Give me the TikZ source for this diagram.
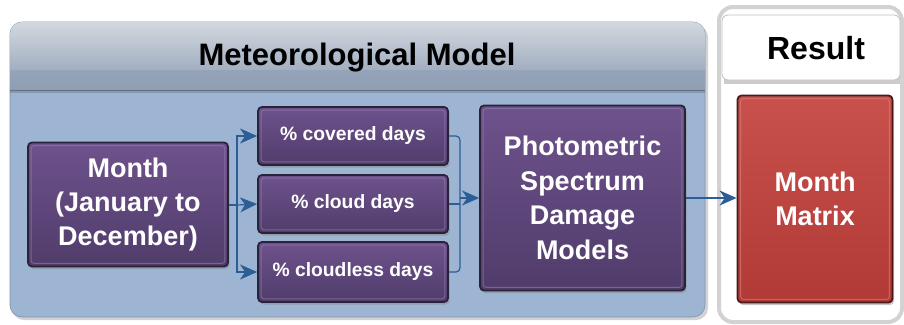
\documentclass[tikz,border=0pt]{standalone}
\usepackage{fontspec}
\setmainfont{Liberation Sans}
\usetikzlibrary{arrows.meta,shadows,calc}
\definecolor{panelblue}{HTML}{9DB5D3}
\definecolor{hdrtop}{HTML}{D2D8DF}
\definecolor{hdrbot}{HTML}{8E9EB4}
\definecolor{purtop}{HTML}{6E528C}
\definecolor{purbot}{HTML}{503C6B}
\definecolor{purline}{HTML}{2A2238}
\definecolor{redtop}{HTML}{C8514C}
\definecolor{redbot}{HTML}{B23A36}
\definecolor{redline}{HTML}{4A1A1A}
\definecolor{arrowblue}{HTML}{2D5D95}
\tikzset{
  purbox/.style={draw=purline, line width=1.8pt, rounded corners=4pt,
    top color=purtop, bottom color=purbot, text=white,
    align=center, inner sep=0pt,
    drop shadow={shadow xshift=1.5pt, shadow yshift=-2.5pt, opacity=0.45}},
  redbox/.style={draw=redline, line width=1.8pt, rounded corners=4pt,
    top color=redtop, bottom color=redbot, text=white,
    align=center, inner sep=0pt,
    drop shadow={shadow xshift=1.5pt, shadow yshift=-2.5pt, opacity=0.45}},
  bevel/.style={line width=1pt, rounded corners=3pt, opacity=0.55},
  bigtext/.style={font=\bfseries\fontsize{27}{34}\selectfont},
  smalltext/.style={font=\bfseries\fontsize{19.3}{22}\selectfont},
  conn/.style={draw=arrowblue, line width=1.2pt, rounded corners=4pt},
  arr/.style={draw=arrowblue, line width=1.2pt, sharp corners, -{Stealth[length=17pt,width=15pt,inset=5pt]}},
}
\begin{document}
\begin{tikzpicture}[x=1pt,y=-1pt]
\useasboundingbox (0,0) rectangle (904,324);
% meteorological panel
\fill[gray!35, rounded corners=12pt] (12,25) rectangle (708,320);
\draw[fill=panelblue, draw=panelblue!80!black, line width=0.6pt, rounded corners=12pt] (10,22) rectangle (705,317);
\fill[hdrbot!80!black, opacity=0.5] (10,90) rectangle (705,93);
\shade[top color=hdrtop, bottom color=hdrbot, rounded corners=12pt] (10,22) rectangle (705,90);
\shade[top color=hdrbot!90!hdrtop, bottom color=hdrbot] (10,70) rectangle (705,90);
\draw[hdrbot!70!black, line width=0.6pt] (10,90) -- (705,90);
\node[font=\bfseries\fontsize{31}{36}\selectfont, text=black] (title) at (357,58) {Meteorological Model};
% result panel
\draw[fill=white, draw=gray!35, line width=4pt, rounded corners=14pt] (719,7) rectangle (902,322);
\fill[gray!40] (724,20) rectangle (900,84);
\draw[fill=white, draw=gray!50, line width=0.8pt, rounded corners=6pt] (722,15) rectangle (900,80);
\node[font=\bfseries\fontsize{32}{36}\selectfont] (restitle) at (816,48) {Result};
% boxes
\node[purbox, bigtext, minimum width=200pt, minimum height=124pt] (month) at (128,204.5)
  {Month\\(January to\\December)};
\node[purbox, smalltext, minimum width=190pt, minimum height=58pt] (covered) at (353,136)
  {\% covered days};
\node[purbox, smalltext, minimum width=190pt, minimum height=58pt] (cloud) at (353,204)
  {\% cloud days};
\node[purbox, smalltext, minimum width=190pt, minimum height=60pt] (cloudless) at (353,272)
  {\% cloudless days};
\node[purbox, font=\bfseries\fontsize{27}{34.5}\selectfont, minimum width=205pt, minimum height=185pt] (photo) at (582.5,198)
  {Photometric\\Spectrum\\Damage\\Models};
\node[redbox, bigtext, minimum width=155pt, minimum height=207pt] (matrix) at (815,199)
  {Month\\Matrix};
% bevels
\foreach \n in {month,covered,cloud,cloudless,photo}{
  \draw[bevel, draw=purtop!70!white] ($(\n.north west)+(4,4)$) rectangle ($(\n.south east)+(-4,-4)$);
}
\draw[bevel, draw=redtop!70!white] ($(matrix.north west)+(4,4)$) rectangle ($(matrix.south east)+(-4,-4)$);
% connectors
\coordinate (j1) at (237,205);
\coordinate (j2) at (460,198);
\draw[conn] (month.east |- j1) -- (j1);
\draw[arr] (j1) |- (covered.west);
\draw[arr] (j1) -- (cloud.west);
\draw[arr] (j1) |- (cloudless.west);
\draw[conn] (covered.east) -| (j2);
\draw[conn] (cloudless.east) -| (j2);
\draw[conn] (cloud.east) -- (cloud.east -| j2);
\draw[arr] (j2) -- (photo.west |- j2);
\draw[arr] (photo.east |- j2) -- (matrix.west |- j2);
\end{tikzpicture}
\end{document}
